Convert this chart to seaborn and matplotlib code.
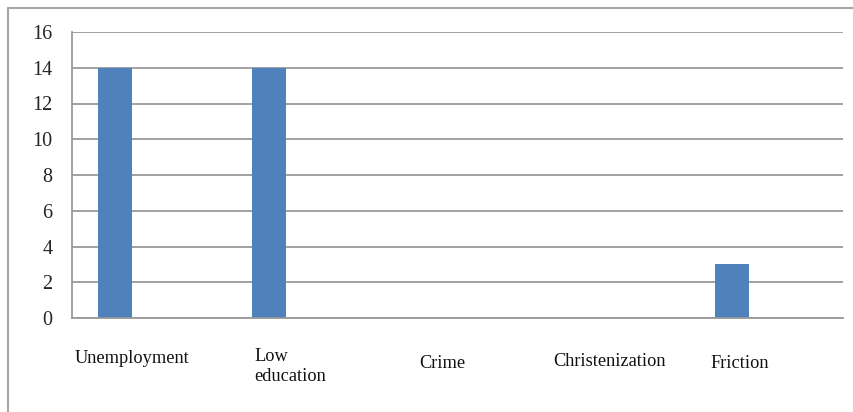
import matplotlib
matplotlib.use("Agg")
import matplotlib.pyplot as plt
import seaborn as sns
from matplotlib.lines import Line2D

# values
categories = ["Unemployment", "Low\neducation", "Crime", "Christenization", "Friction"]
values = [14, 14, 0, 0, 3]
y_ticks = [0, 2, 4, 6, 8, 10, 12, 14, 16]

# label offsets inside each category slot (left edge, data units)
label_x = [-0.48, -0.32, -0.25, -0.38, -0.36]
label_y = [-2.29, -2.71, -2.52, -2.46, -2.57]

sns.set_style("white")
plt.rcParams["font.family"] = ["Liberation Serif", "DejaVu Serif"]

fig = plt.figure(figsize=(8.54, 4.12), dpi=100)
ax = fig.add_axes([72 / 854, 1 - 318 / 412, (843 - 72) / 854, (318 - 32) / 412])

bar_w = 1 / 4.5
sns.barplot(x=list(range(len(values))), y=values, color="#4F81BD",
            width=bar_w, saturation=1, ax=ax)
# excel clustered layout: bar sits in the first of three series slots
for p in ax.patches:
    p.set_x(p.get_x() - bar_w)
    p.set_edgecolor("none")

grid = "#9a9a9a"
ax.set_xlim(-0.5, len(values) - 0.5)
ax.set_ylim(0, 16)
ax.set_yticks(y_ticks)
ax.set_yticklabels([str(t) for t in y_ticks], fontsize=14.5)
ax.yaxis.grid(True, color=grid, linewidth=1.3)
ax.set_axisbelow(True)

ax.set_xticks([i - 0.5 for i in range(len(values) + 1)])
ax.set_xticklabels([])
ax.tick_params(axis="both", direction="out", length=5, width=1.3, color=grid)
ax.tick_params(axis="y", pad=9)
ax.set_xlabel("")

for side in ["top", "right"]:
    ax.spines[side].set_visible(False)
for side in ["left", "bottom"]:
    ax.spines[side].set_color(grid)
    ax.spines[side].set_linewidth(1.3)

for i, name in enumerate(categories):
    ax.text(i + label_x[i], label_y[i], name, fontsize=13.2, ha="left",
            va="center", color="#111111", linespacing=1.25, clip_on=False)

# outer chart frame (only top and left edges are visible)
fig.add_artist(Line2D([8 / 854, 8 / 854], [0, 1 - 8 / 412], color="#a6a6a6", lw=1.5))
fig.add_artist(Line2D([8 / 854, 1], [1 - 8 / 412, 1 - 8 / 412], color="#a6a6a6", lw=1.5))

fig.savefig("out.png", dpi=100)
